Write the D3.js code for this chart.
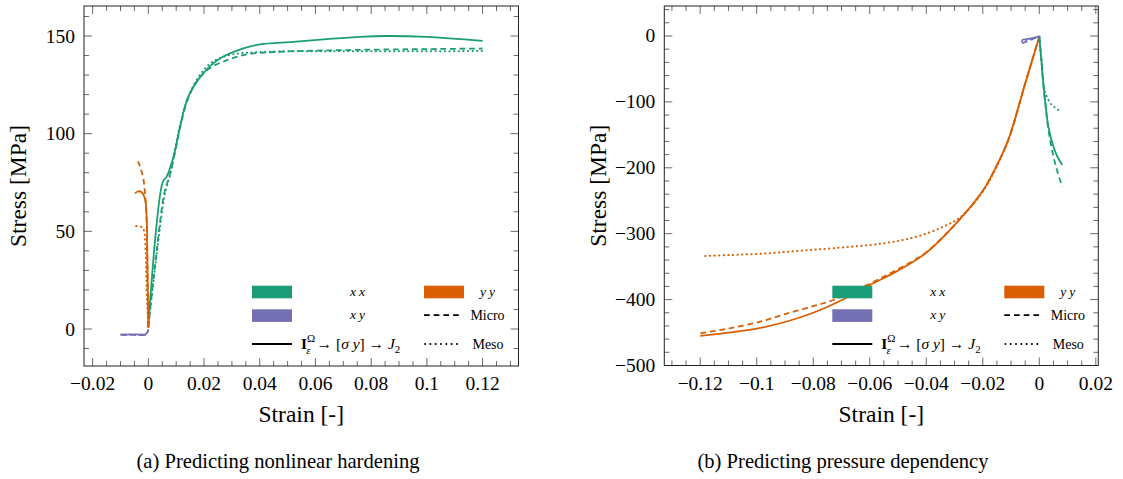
<!DOCTYPE html>
<html><head><meta charset="utf-8">
<script src="https://cdn.jsdelivr.net/npm/d3@7"></script>
<style>
html,body{margin:0;padding:0;background:#fff;}
</style></head>
<body><svg id="c" width="1123" height="479" font-family="Liberation Serif, DejaVu Serif, serif"></svg>
<script>
// ---------- DATA ----------
// Panel (a): predicting nonlinear hardening  [strain, stress MPa]
const hard_xx_model = [[0,1.2],[0.0052,75.4],[0.0066,78],[0.009,88],[0.0114,103.5],[0.0143,118.9],[0.0197,130.9],[0.0257,138.5],[0.0341,143.7],[0.0401,145.7],[0.052,147],[0.064,148.4],[0.076,149.6],[0.0856,150],[0.0999,149.6],[0.12,147.5]];
const hard_xx_micro = [[0,1.2],[0.003,40],[0.0058,70],[0.0075,78],[0.0095,90],[0.0115,104],[0.014,117],[0.0175,127],[0.022,133.5],[0.028,137.5],[0.035,140.5],[0.045,141.8],[0.06,142.5],[0.08,143],[0.1,143.3],[0.12,143.6]];
const hard_xx_meso  = [[0,1.2],[0.003,38],[0.0058,68],[0.008,80],[0.01,95],[0.012,108],[0.015,121],[0.019,131],[0.0233,137],[0.03,140.5],[0.04,141.8],[0.06,142.2],[0.08,142.2],[0.1,142.2],[0.12,142.3]];
const hard_yy_model = [[0,1],[-0.0002,20],[-0.0004,40],[-0.0005,52],[-0.0007,60],[-0.0012,66.5],[-0.0024,70],[-0.0036,70.5],[-0.0048,69.4]];
const hard_yy_micro = [[0,1],[-0.0003,30],[-0.0006,55],[-0.0012,69.5],[-0.0018,77],[-0.0027,82],[-0.0037,85.8]];
const hard_yy_meso  = [[0,1],[-0.0005,15],[-0.0008,30],[-0.0011,44],[-0.0015,50],[-0.0022,52],[-0.0032,52.5],[-0.0045,52.7]];
const hard_xy_model = [[-0.0098,-2.8],[-0.0085,-3.1],[-0.007,-2.7],[-0.0055,-3.0],[-0.004,-2.8],[-0.0025,-3.1],[-0.0012,-2.9],[-0.0005,-2.0],[0,-0.3]];
const hard_xy_micro = [[-0.0098,-3.0],[-0.0085,-2.8],[-0.007,-3.1],[-0.0055,-2.7],[-0.004,-3.1],[-0.0025,-2.8],[-0.0012,-3.0],[-0.0005,-2.2],[0,-0.3]];
const hard_xy_meso  = [[-0.0098,-2.9],[-0.0085,-3.0],[-0.007,-2.9],[-0.0055,-2.9],[-0.004,-3.0],[-0.0025,-2.9],[-0.0012,-2.9],[-0.0005,-2.1],[0,-0.3]];

// Panel (b): predicting pressure dependency
const pres_yy_model = [[0,-1],[-0.005,-72],[-0.011,-158],[-0.015,-196],[-0.02,-235],[-0.03,-287],[-0.04,-329],[-0.05,-356],[-0.06,-378],[-0.07,-401],[-0.08,-420],[-0.09,-434],[-0.1,-444],[-0.11,-450],[-0.12,-455]];
const pres_yy_micro = [[0,-1],[-0.005,-72],[-0.011,-158],[-0.015,-196],[-0.02,-235],[-0.03,-287],[-0.04,-328],[-0.045,-342],[-0.055,-365],[-0.065,-386],[-0.0729,-400.6],[-0.08,-410],[-0.09,-422],[-0.0988,-433.5],[-0.11,-444],[-0.12,-451]];
const pres_yy_meso  = [[0,-1],[-0.005,-72],[-0.011,-158],[-0.02,-236],[-0.028,-275],[-0.034,-289.4],[-0.0434,-304.5],[-0.0552,-314.6],[-0.0729,-322],[-0.085,-326],[-0.0964,-329.8],[-0.11,-332.5],[-0.1188,-333.8]];
const pres_xx_model = [[0,-1],[0.0007,-35],[0.0014,-71.8],[0.0023,-108],[0.0032,-137.6],[0.005,-168],[0.0065,-184],[0.0081,-195.7]];
const pres_xx_micro = [[0,-1],[0.0007,-35],[0.0014,-72],[0.0023,-110],[0.0032,-142],[0.005,-183],[0.0065,-207],[0.0081,-228.7]];
const pres_xx_meso  = [[0,-1],[0.0007,-35],[0.0014,-70],[0.002,-84.5],[0.003,-95],[0.0044,-104.7],[0.006,-110],[0.0076,-114.9]];
const pres_xy_model = [[-0.0062,-6],[-0.004,-4.5],[-0.002,-2.8],[0,-0.5]];
const pres_xy_micro = [[-0.0062,-11],[-0.003,-6],[0,-0.5]];
const pres_xy_meso  = [[-0.0062,-8],[-0.003,-4.5],[0,-0.5]];

// Ticks
const hardXTicks = [-0.02,0,0.02,0.04,0.06,0.08,0.1,0.12];
const hardXTickLabels = ["\u22120.02","0","0.02","0.04","0.06","0.08","0.1","0.12"];
const hardYTicks = [0,50,100,150];
const presXTicks = [-0.12,-0.1,-0.08,-0.06,-0.04,-0.02,0,0.02];
const presXTickLabels = ["\u22120.12","\u22120.1","\u22120.08","\u22120.06","\u22120.04","\u22120.02","0","0.02"];
const presYTicks = [0,-100,-200,-300,-400,-500];
const presYTickLabels = ["0","\u2212100","\u2212200","\u2212300","\u2212400","\u2212500"];

const colors = {xx:"#1b9e77", yy:"#d95f02", xy:"#7570b3"};
const styles = {model:null, micro:"5.7,3.8", meso:"0.3,4.3"};

// ---------- DRAW ----------
const svg = d3.select("#c");
const FONT = "Liberation Serif, DejaVu Serif, serif";

function panel(cfg){
  const g = svg.append("g").attr("font-family",FONT);
  const x = d3.scaleLinear().domain(cfg.xDomain).range([cfg.left, cfg.right]);
  const y = d3.scaleLinear().domain(cfg.yDomain).range([cfg.bottom, cfg.top]);
  const majL = 8, minL = 5;
  const tickG = g.append("g").attr("stroke","#444").attr("stroke-width",0.8);
  const xMin = d3.range(Math.ceil(cfg.xDomain[0]/cfg.xMinor), Math.floor(cfg.xDomain[1]/cfg.xMinor)+1).map(k=>k*cfg.xMinor);
  const yMin = d3.range(Math.ceil(cfg.yDomain[0]/cfg.yMinor), Math.floor(cfg.yDomain[1]/cfg.yMinor)+1).map(k=>k*cfg.yMinor);
  const isMajX = v => cfg.xTicks.some(t=>Math.abs(t-v)<1e-9);
  const isMajY = v => cfg.yTicks.some(t=>Math.abs(t-v)<1e-9);
  xMin.forEach(v=>{
    const L = isMajX(v)?majL:minL, px = x(v);
    tickG.append("line").attr("x1",px).attr("x2",px).attr("y1",cfg.bottom).attr("y2",cfg.bottom-L);
    tickG.append("line").attr("x1",px).attr("x2",px).attr("y1",cfg.top).attr("y2",cfg.top+L);
  });
  yMin.forEach(v=>{
    const L = isMajY(v)?majL:minL, py = y(v);
    tickG.append("line").attr("y1",py).attr("y2",py).attr("x1",cfg.left).attr("x2",cfg.left+L);
    tickG.append("line").attr("y1",py).attr("y2",py).attr("x1",cfg.right).attr("x2",cfg.right-L);
  });
  cfg.xTicks.forEach((v,i)=>{
    g.append("text").attr("x",x(v)).attr("y",cfg.bottom+24).attr("text-anchor","middle")
      .attr("font-size",19.5).text(cfg.xTickLabels[i]);
  });
  cfg.yTicks.forEach((v,i)=>{
    g.append("text").attr("x",cfg.left-9).attr("y",y(v)+6.5).attr("text-anchor","end")
      .attr("font-size",19.5).text(cfg.yTickLabels[i]);
  });
  const cid = "clip"+cfg.id;
  svg.append("clipPath").attr("id",cid).append("rect")
    .attr("x",cfg.left).attr("y",cfg.top).attr("width",cfg.right-cfg.left).attr("height",cfg.bottom-cfg.top);
  const line = d3.line().x(d=>x(d[0])).y(d=>y(d[1])).curve(d3.curveCatmullRom.alpha(0.5));
  const dg = g.append("g").attr("clip-path",`url(#${cid})`);
  cfg.series.forEach(s=>{
    dg.append("path").attr("d",line(s.data)).attr("fill","none")
      .attr("stroke",colors[s.comp]).attr("stroke-width",s.kind==="meso"?2:1.8)
      .attr("stroke-linecap", s.kind==="meso"?"round":"butt")
      .attr("stroke-dasharray",styles[s.kind]);
  });
  g.append("rect").attr("x",cfg.left).attr("y",cfg.top).attr("width",cfg.right-cfg.left).attr("height",cfg.bottom-cfg.top)
    .attr("fill","none").attr("stroke","#222").attr("stroke-width",1);
  g.append("text").attr("x",(cfg.left+cfg.right)/2).attr("y",cfg.bottom+56).attr("text-anchor","middle")
    .attr("font-size",23.5).text("Strain [-]");
  g.append("text").attr("transform",`translate(${cfg.left-58},${(cfg.top+cfg.bottom)/2}) rotate(-90)`)
    .attr("text-anchor","middle").attr("font-size",23.5).text("Stress [MPa]");
  g.append("text").attr("x",cfg.capX).attr("y",468).attr("text-anchor","middle").attr("font-size",20.6).text(cfg.caption);
  // legend
  const lx = cfg.left + 168, ly = 285.7;
  const lg = g.append("g");
  lg.append("rect").attr("x",lx).attr("y",ly).attr("width",40).attr("height",12.6).attr("fill",colors.xx);
  lg.append("rect").attr("x",lx+172).attr("y",ly).attr("width",40).attr("height",12.6).attr("fill",colors.yy);
  lg.append("rect").attr("x",lx).attr("y",ly+23.6).attr("width",40).attr("height",12.6).attr("fill",colors.xy);
  lg.append("line").attr("x1",lx).attr("x2",lx+40).attr("y1",ly+58.3).attr("y2",ly+58.3).attr("stroke","#000").attr("stroke-width",1.8);
  lg.append("line").attr("x1",lx+172).attr("x2",lx+208).attr("y1",ly+29.5).attr("y2",ly+29.5).attr("stroke","#000").attr("stroke-width",1.8).attr("stroke-dasharray","5.7,4");
  lg.append("line").attr("x1",lx+173).attr("x2",lx+208).attr("y1",ly+58.3).attr("y2",ly+58.3).attr("stroke","#000").attr("stroke-width",1.8).attr("stroke-linecap","round").attr("stroke-dasharray","0.2,5.1");
  const it = (tx,ty,t)=>lg.append("text").attr("x",tx).attr("y",ty).attr("text-anchor","middle").attr("font-size",13.5).attr("font-style","italic").attr("letter-spacing",3).text(t);
  it(lx+107,ly+10,"xx"); it(lx+237,ly+10,"yy"); it(lx+107,ly+33,"xy");
  lg.append("text").attr("x",lx+235.5).attr("y",ly+34).attr("text-anchor","middle").attr("font-size",14).text("Micro");
  lg.append("text").attr("x",lx+236).attr("y",ly+63).attr("text-anchor","middle").attr("font-size",14).text("Meso");
  const f = lg.append("text").attr("x",lx+49).attr("y",ly+63).attr("font-size",15.5);
  f.append("tspan").attr("font-weight","bold").text("I");
  f.append("tspan").attr("font-size",11).attr("dy",-7).text("\u03A9");
  f.append("tspan").attr("font-size",11).attr("font-style","italic").attr("dx",-9).attr("dy",12).text("\u03B5");
  f.append("tspan").attr("dx",6).attr("dy",-5).text("\u2192 [");
  f.append("tspan").attr("font-style","italic").text("\u03C3 y");
  f.append("tspan").text("] \u2192 ");
  f.append("tspan").attr("font-style","italic").text("J");
  f.append("tspan").attr("font-size",11).attr("dy",4).text("2");
}

panel({id:"a", left:84, right:518.5, top:6, bottom:366,
  xDomain:[-0.0231,0.1329], yDomain:[-18.94,165.36], xMinor:0.005, yMinor:10,
  xTicks:hardXTicks, xTickLabels:hardXTickLabels, yTicks:hardYTicks, yTickLabels:hardYTicks.map(String),
  caption:"(a) Predicting nonlinear hardening", capX:278,
  series:[
    {comp:"xx",kind:"model",data:hard_xx_model},{comp:"xx",kind:"micro",data:hard_xx_micro},{comp:"xx",kind:"meso",data:hard_xx_meso},
    {comp:"yy",kind:"model",data:hard_yy_model},{comp:"yy",kind:"micro",data:hard_yy_micro},{comp:"yy",kind:"meso",data:hard_yy_meso},
    {comp:"xy",kind:"model",data:hard_xy_model},{comp:"xy",kind:"micro",data:hard_xy_micro},{comp:"xy",kind:"meso",data:hard_xy_meso}
  ]});

panel({id:"b", left:664.3, right:1098.3, top:6, bottom:365.5,
  xDomain:[-0.1327,0.02087], yDomain:[-500,45.5], xMinor:0.005, yMinor:20,
  xTicks:presXTicks, xTickLabels:presXTickLabels, yTicks:presYTicks, yTickLabels:presYTickLabels,
  caption:"(b) Predicting pressure dependency", capX:843,
  series:[
    {comp:"yy",kind:"model",data:pres_yy_model},{comp:"yy",kind:"micro",data:pres_yy_micro},{comp:"yy",kind:"meso",data:pres_yy_meso},
    {comp:"xx",kind:"model",data:pres_xx_model},{comp:"xx",kind:"micro",data:pres_xx_micro},{comp:"xx",kind:"meso",data:pres_xx_meso},
    {comp:"xy",kind:"model",data:pres_xy_model},{comp:"xy",kind:"micro",data:pres_xy_micro},{comp:"xy",kind:"meso",data:pres_xy_meso}
  ]});
</script></body></html>
